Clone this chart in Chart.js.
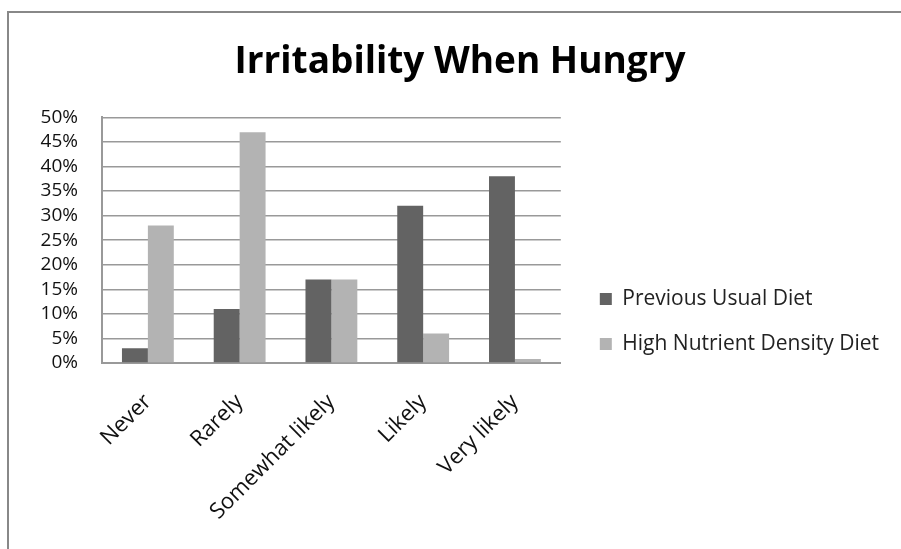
<!DOCTYPE html>
<html>
<head>
<meta charset="utf-8">
<script src="https://cdn.jsdelivr.net/npm/chart.js@4"></script>
<style>
html,body{margin:0;padding:0;background:#fff;width:901px;height:549px;overflow:hidden;}
#frame{position:absolute;left:7px;top:11px;width:894px;height:538px;border-top:2px solid #888;border-left:2px solid #888;box-sizing:border-box;}
#wrap{position:absolute;left:0;top:0;width:901px;height:549px;}
</style>
</head>
<body>
<div id="frame"></div>
<div id="wrap"><canvas id="c" width="901" height="549"></canvas></div>
<script>
const categories = ["Never", "Rarely", "Somewhat likely", "Likely", "Very likely"];
const previousUsualDiet = [3, 11, 17, 32, 38];
const highNutrientDensityDiet = [28, 47, 17, 6, 0.8];
const seriesNames = ["Previous Usual Diet", "High Nutrient Density Diet"];
const yMin = 0, yMax = 50, yStep = 5;

const FONT = "'Open Sans', 'Noto Sans', sans-serif";

new Chart(document.getElementById('c'), {
  type: 'bar',
  data: {
    labels: categories,
    datasets: [
      { label: seriesNames[0], data: previousUsualDiet, backgroundColor: '#636363', categoryPercentage: 0.565, barPercentage: 1.0 },
      { label: seriesNames[1], data: highNutrientDensityDiet, backgroundColor: '#b3b3b3', categoryPercentage: 0.565, barPercentage: 1.0 }
    ]
  },
  options: {
    responsive: false,
    animation: false,
    layout: { padding: { left: 31, right: 12, top: 0, bottom: 0 } },
    plugins: {
      title: {
        display: true,
        text: 'Irritability When Hungry',
        color: '#000',
        font: { family: FONT, size: 37, weight: 'bold' },
        padding: { top: 40, bottom: 33 }
      },
      legend: {
        position: 'right',
        align: 'center',
        maxWidth: 400,
        title: { display: true, text: ' ', font: { size: 10 }, padding: 41 },
        labels: {
          color: '#222',
          font: { family: FONT, size: 21 },
          boxWidth: 12,
          boxHeight: 12,
          padding: 24
        }
      },
      tooltip: { enabled: false }
    },
    scales: {
      x: {
        grid: { display: false },
        border: { display: true, color: '#999', width: 2 },
        ticks: {
          color: '#111',
          font: { family: FONT, size: 22 },
          minRotation: 45,
          maxRotation: 45,
          autoSkip: false,
          padding: 18
        },
        afterFit: (a) => { a.height = 186; }
      },
      y: {
        min: yMin, max: yMax,
        grid: { color: '#999', lineWidth: 1.5, drawTicks: false },
        border: { display: true, color: '#999', width: 2 },
        ticks: {
          stepSize: yStep,
          autoSkip: false,
          color: '#111',
          font: { family: FONT, size: 19 },
          padding: 24,
          callback: (v) => v + '%'
        },
        afterFit: (a) => { a.width = 71; }
      },
      gap: {
        type: 'linear',
        position: 'right',
        display: true,
        grid: { display: false, drawTicks: false },
        border: { display: false },
        ticks: { display: false },
        afterFit: (a) => { a.width = 15; }
      }
    }
  }
});
</script>
</body>
</html>
